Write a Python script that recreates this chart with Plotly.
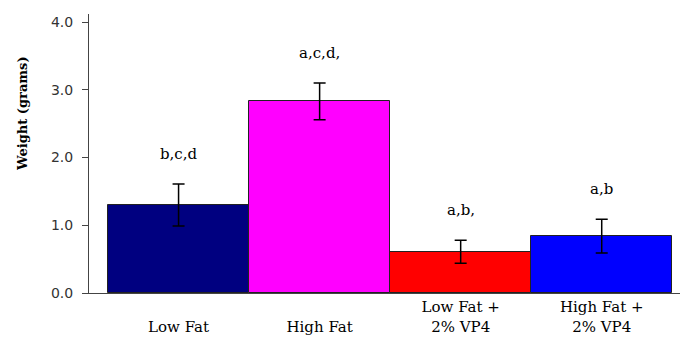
import plotly.graph_objects as go

categories = ["<br>Low Fat", "<br>High Fat", "Low Fat +<br>2% VP4", "High Fat +<br>2% VP4"]
weights = [1.30, 2.83, 0.61, 0.84]
errors = [0.31, 0.27, 0.17, 0.25]
letters = ["b,c,d", "a,c,d,", "a,b,", "a,b"]
colors = ["#000080", "#FF00FF", "#FF0000", "#0000FF"]
y_ticks = [0, 1, 2, 3, 4]
y_ticklabels = ["0.0", "1.0", "2.0", "3.0", "4.0"]

xs = list(range(len(categories)))

fig = go.Figure()
fig.add_trace(go.Bar(
    x=xs, y=weights, width=1.0,
    marker=dict(color=colors, line=dict(color="#222222", width=1)),
    error_y=dict(type="data", array=errors, visible=True, color="black", thickness=1.5, width=6),
    showlegend=False, hoverinfo="skip",
))

for x, w, e, t in zip(xs, weights, errors, letters):
    fig.add_annotation(x=x, y=w + e, text=t, showarrow=False, yshift=30,
                       font=dict(family="DejaVu Serif", size=15, color="black"))

fig.add_annotation(xref="paper", yref="paper", x=-0.1134, y=0.645, text="<b>Weight (grams)</b>",
                   textangle=-90, showarrow=False, xanchor="center", yanchor="middle",
                   font=dict(family="DejaVu Serif", size=13, color="black"))

fig.update_layout(
    width=681, height=337,
    margin=dict(l=89, r=1, t=14, b=44),
    plot_bgcolor="white", paper_bgcolor="white",
    bargap=0,
    xaxis=dict(range=[-0.635, 3.555], tickmode="array", tickvals=xs, ticktext=categories,
               showline=True, linecolor="#444444", linewidth=1, ticks="", showgrid=False,
               zeroline=False, tickfont=dict(family="DejaVu Serif", size=15, color="black")),
    yaxis=dict(range=[0, 4.12], tickmode="array", tickvals=y_ticks, ticktext=y_ticklabels,
               showline=True, linecolor="#444444", linewidth=1, ticks="outside", ticklen=6,
               tickcolor="#444444", showgrid=False, zeroline=False, ticklabelstandoff=6,
               tickfont=dict(family="DejaVu Sans", size=14, color="#333333")),
)

fig.write_html("out.html", config={"displayModeBar": False},
               post_script="document.body.style.margin='0';")
